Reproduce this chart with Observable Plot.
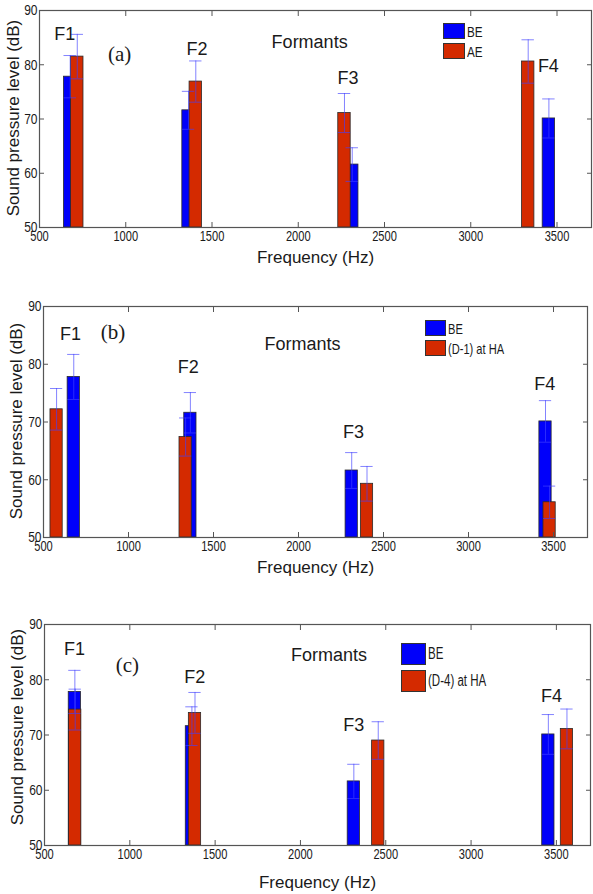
<!DOCTYPE html>
<html>
<head>
<meta charset="utf-8">
<script src="https://cdn.jsdelivr.net/npm/d3@7"></script>
<script src="https://cdn.jsdelivr.net/npm/@observablehq/plot@0.6"></script>
<style>
  html, body { margin: 0; padding: 0; background: #fff; }
  #root { position: relative; width: 593px; height: 894px; overflow: hidden; font-family: "Liberation Sans", Arial, sans-serif; }
  .panel { position: absolute; left: 0; }
  .leg { position: absolute; color: #1a1a1a; }
  .leg .row { display: flex; align-items: center; }
  .leg .sw { border: 1px solid #333; margin-right: 2px; box-sizing: border-box; flex: none; }
  .leg span { display: inline-block; transform-origin: left center; white-space: nowrap; }
</style>
</head>
<body>
<div id="root"></div>
<script>
// ---- data ----
const freqTicks = [500, 1000, 1500, 2000, 2500, 3000, 3500];
const splTicks = [50, 60, 70, 80, 90];
const formantNames = ["F1", "F2", "F3", "F4"];

const beFreq = [678, 1364, 2313, 3453];
const beSpl  = [77.8, 71.6, 61.6, 70.1];
const beSd   = [3.9, 3.5, 3.1, 3.6];

const aeFreq = [719, 1406, 2268, 3333];
const aeSpl  = [81.5, 76.9, 71.1, 80.6];
const aeSd   = [4.1, 3.8, 3.6, 4.0];

const d1Freq = [577, 1336, 2403, 3477];
const d1Spl  = [72.2, 67.4, 59.3, 56.1];
const d1Sd   = [3.6, 3.3, 3.0, 2.8];

const d4Freq = [680, 1382, 2456, 3562];
const d4Spl  = [74.6, 74.0, 69.0, 71.1];
const d4Sd   = [3.7, 3.7, 3.4, 3.6];

// annotation anchors (Hz, dB)
const labelXA = [646, 1413, 2289, 3450], labelYA = [85.7, 82.9, 77.6, 79.7];
const labelXB = [659, 1351, 2324, 3449], labelYB = [85.2, 79.4, 68.2, 76.5];
const labelXC = [676, 1380, 2312, 3471], labelYC = [85.5, 80.4, 71.8, 77.0];

const BLUE = "#0000fa", RED = "#d42a00", ERR = "#4040ff";
const barW = 72, capHalf = 36;
const SANS = '"Liberation Sans", Arial, sans-serif';

function rows(f, s, e) { return f.map((v, i) => ({f: v, s: s[i], e: e[i]})); }

function squeeze(svg, sel, sx) {
  svg.querySelectorAll(sel).forEach(t => {
    const tr = t.getAttribute("transform");
    if (tr) t.setAttribute("transform", tr + ` scale(${sx},1)`);
  });
}
function fitLength(svg, sel, target) {
  svg.querySelectorAll(sel).forEach(t => {
    const len = t.getComputedTextLength();
    const tr = t.getAttribute("transform");
    if (len > 0 && tr) t.setAttribute("transform", tr + ` scale(${target / len},1)`);
  });
}

function panel(cfg) {
  const s1 = rows(beFreq, beSpl, beSd);
  const s2 = rows(cfg.f2, cfg.s2, cfg.e2);
  const labels = formantNames.map((n, i) => ({n, x: cfg.lx[i], y: cfg.ly[i]}));
  const barMark = (data, fill) => Plot.rectY(data, {
    x1: d => d.f - barW / 2, x2: d => d.f + barW / 2, y1: 50, y2: "s",
    fill, stroke: "#2a2a2a", strokeWidth: 0.8
  });
  const errMarks = (data) => [
    Plot.ruleX(data, {x: "f", y1: d => d.s - d.e, y2: d => d.s + d.e, stroke: ERR, strokeOpacity: 0.65}),
    Plot.ruleY(data, {y: d => d.s + d.e, x1: d => d.f - capHalf, x2: d => d.f + capHalf, stroke: ERR, strokeOpacity: 0.65}),
    Plot.ruleY(data, {y: d => d.s - d.e, x1: d => d.f - capHalf, x2: d => d.f + capHalf, stroke: ERR, strokeOpacity: 0.65})
  ];
  const fmt = d3.format("d");
  const svg = Plot.plot({
    width: 593, height: cfg.height,
    marginTop: cfg.mt, marginBottom: cfg.mb, marginLeft: cfg.ml, marginRight: cfg.mr,
    style: {fontFamily: SANS, color: "#1a1a1a", background: "transparent", overflow: "visible"},
    x: {domain: [500, 3700], ticks: freqTicks, label: null},
    y: {domain: [50, 90], ticks: splTicks, label: null},
    marks: [
      barMark(s1, BLUE),
      barMark(s2, RED),
      ...errMarks(s1),
      ...errMarks(s2),
      Plot.frame({stroke: "#555", strokeWidth: 1.2}),
      Plot.axisX(freqTicks, {anchor: "bottom", tickSize: 0, tickPadding: 3, tickFormat: fmt, fontSize: 15, fill: "#1a1a1a"}),
      Plot.axisX(freqTicks, {anchor: "bottom", tickSize: -5, tickFormat: () => "", stroke: "#555"}),
      Plot.axisX(freqTicks, {anchor: "top", tickSize: -5, tickFormat: () => "", stroke: "#555"}),
      Plot.axisY(splTicks, {anchor: "left", tickSize: 0, tickPadding: 2, tickFormat: fmt, fontSize: 15, fill: "#1a1a1a"}),
      Plot.axisY(splTicks, {anchor: "left", tickSize: -5, tickFormat: () => "", stroke: "#555"}),
      Plot.axisY(splTicks, {anchor: "right", tickSize: -5, tickFormat: () => "", stroke: "#555"}),
      Plot.text(["Frequency (Hz)"], {frameAnchor: "bottom", textAnchor: "middle", lineAnchor: "middle", dy: cfg.xlabDy, fontSize: 17, fill: "#1a1a1a", ariaLabel: "xlab"}),
      Plot.text(["Sound pressure level (dB)"], {frameAnchor: "left", textAnchor: "middle", lineAnchor: "middle", rotate: -90, dx: -cfg.ml + cfg.ylabX, dy: cfg.ylabDy, fontSize: 17, fill: "#1a1a1a", ariaLabel: "ylab"}),
      Plot.text(labels, {x: "x", y: "y", text: "n", fontSize: 18, fill: "#1a1a1a", ariaLabel: "flab"}),
      Plot.text(["Formants"], {x: cfg.fx, y: cfg.fy, fontSize: 18, fill: "#1a1a1a", ariaLabel: "formants"}),
      Plot.text([cfg.tag], {x: cfg.tx, y: cfg.ty, fontSize: 21, fontFamily: '"Liberation Serif", "Times New Roman", serif', fill: "#1a1a1a"})
    ]
  });
  squeeze(svg, 'g[aria-label="x-axis tick label"] text', 0.74);
  squeeze(svg, 'g[aria-label="y-axis tick label"] text', 0.8);
  squeeze(svg, 'g[aria-label="flab"] text', 0.78);
  squeeze(svg, 'g[aria-label="formants"] text', 0.8);

  const wrap = document.createElement("div");
  wrap.className = "panel";
  wrap.style.top = cfg.top + "px";
  wrap.appendChild(svg);
  document.getElementById("root").appendChild(wrap);

  fitLength(svg, 'g[aria-label="ylab"] text', cfg.ylabLen);
  fitLength(svg, 'g[aria-label="xlab"] text', cfg.xlabLen);

  const leg = document.createElement("div");
  leg.className = "leg";
  leg.style.left = cfg.legX + "px";
  leg.style.top = cfg.legY + "px";
  leg.style.fontSize = cfg.legFont + "px";
  [["BE", BLUE], [cfg.name2, RED]].forEach(([t, c]) => {
    const r = document.createElement("div"); r.className = "row";
    r.style.height = cfg.legRow + "px";
    const sw = document.createElement("div"); sw.className = "sw"; sw.style.background = c;
    sw.style.width = cfg.swW + "px"; sw.style.height = cfg.swH + "px";
    const tx = document.createElement("span"); tx.textContent = t;
    tx.style.transform = `scaleX(${cfg.legSx})`;
    r.appendChild(sw); r.appendChild(tx); leg.appendChild(r);
  });
  document.getElementById("root").appendChild(leg);
}

panel({top: 0, height: 290, mt: 10, mb: 63, ml: 39, mr: 2, xlabDy: 30.5, xlabLen: 96,
  ylabX: 13.5, ylabDy: -1, ylabLen: 219,
  f2: aeFreq, s2: aeSpl, e2: aeSd, name2: "AE",
  lx: labelXA, ly: labelYA, fx: 2066, fy: 84.2, tag: "(a)", tx: 964, ty: 82,
  legX: 443, legY: 21, legRow: 20, swW: 22, swH: 16, legFont: 15, legSx: 0.78});

panel({top: 290, height: 300, mt: 16, mb: 53, ml: 43, mr: 6, xlabDy: 30, xlabLen: 95,
  ylabX: 16.5, ylabDy: -1, ylabLen: 225,
  f2: d1Freq, s2: d1Spl, e2: d1Sd, name2: "(D-1) at HA",
  lx: labelXB, ly: labelYB, fx: 2023, fy: 83.5, tag: "(b)", tx: 909, ty: 85.6,
  legX: 425, legY: 318, legRow: 20, swW: 21, swH: 16, legFont: 15, legSx: 0.74});

panel({top: 590, height: 304, mt: 34, mb: 49, ml: 44, mr: 3, xlabDy: 37, xlabLen: 97,
  ylabX: 17.5, ylabDy: -8, ylabLen: 233,
  f2: d4Freq, s2: d4Spl, e2: d4Sd, name2: "(D-4) at HA",
  lx: labelXC, ly: labelYC, fx: 2168, fy: 84.4, tag: "(c)", tx: 986, ty: 82.6,
  legX: 401, legY: 640, legRow: 27, swW: 25, swH: 22, legFont: 16, legSx: 0.72});
</script>
</body>
</html>
